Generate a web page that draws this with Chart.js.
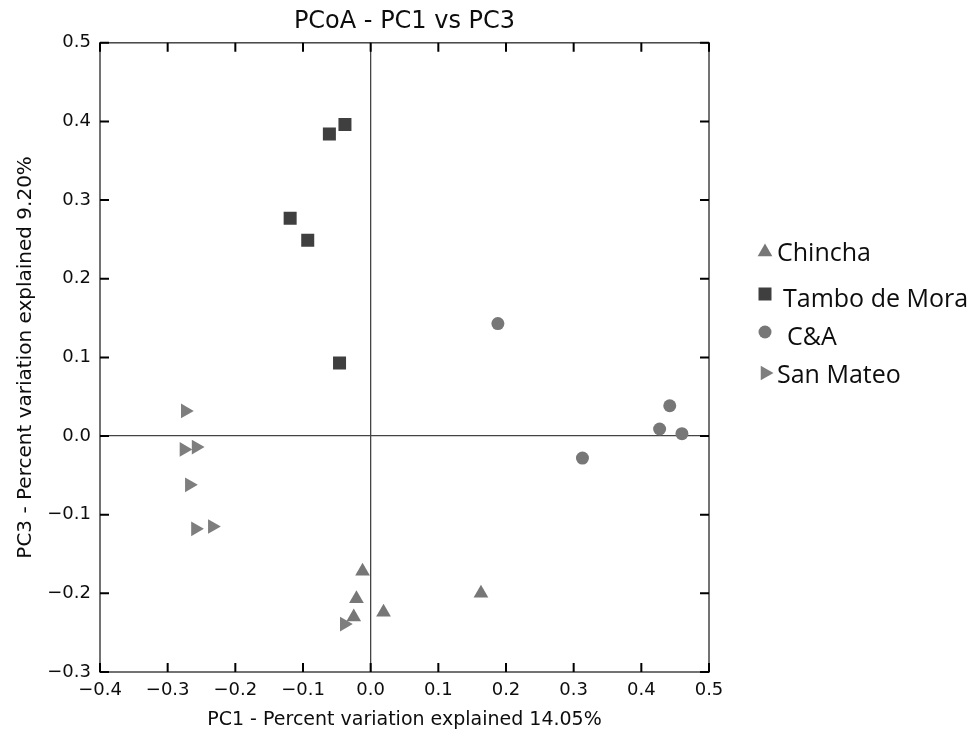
<!DOCTYPE html>
<html>
<head>
<meta charset="utf-8">
<title>PCoA - PC1 vs PC3</title>
<script src="https://cdn.jsdelivr.net/npm/chart.js"></script>
<style>
  body { margin: 0; background: #fff; }
  #wrap { width: 977px; height: 733px; }
</style>
</head>
<body>
<div id="wrap"><canvas id="chart" width="977" height="733"></canvas></div>
<script>
// groups shown in the legend
var groups = ["Chincha", "Tambo de Mora", "C&A", "San Mateo"];

// [PC1, PC3] for each sample
var chinchaPts = [[-0.012, -0.172], [-0.021, -0.207], [-0.025, -0.230], [0.019, -0.224], [0.163, -0.200]];
var tamboPts = [[-0.038, 0.396], [-0.061, 0.384], [-0.119, 0.277], [-0.093, 0.249], [-0.046, 0.093]];
var caPts = [[0.188, 0.143], [0.442, 0.0385], [0.427, 0.009], [0.460, 0.003], [0.313, -0.028]];
var sanMateoPts = [[-0.274, 0.032], [-0.276, -0.017], [-0.258, -0.014], [-0.268, -0.062],
                   [-0.259, -0.118], [-0.234, -0.115], [-0.039, -0.239]];

// axis ticks
var xTickValues = [-0.4, -0.3, -0.2, -0.1, 0, 0.1, 0.2, 0.3, 0.4, 0.5];
var xTickLabels = ["\u22120.4", "\u22120.3", "\u22120.2", "\u22120.1", "0.0", "0.1", "0.2", "0.3", "0.4", "0.5"];
var yTickValues = [-0.3, -0.2, -0.1, 0, 0.1, 0.2, 0.3, 0.4, 0.5];
var yTickLabels = ["\u22120.3", "\u22120.2", "\u22120.1", "0.0", "0.1", "0.2", "0.3", "0.4", "0.5"];

var DARK = "#3f3f3f";
var GRAY = "#777777";
var LIGHT = "#7e7e7e";

function toXY(pts) {
  return pts.map(function (p) { return { x: p[0], y: p[1] }; });
}

// little marker shapes for the legend
function drawMarker(ctx, style, x, y, color) {
  ctx.fillStyle = color;
  ctx.beginPath();
  if (style === "triangle" || style === "triangleRight") {
    var r = 8.5;
    var rad = style === "triangle" ? 0 : Math.PI / 2;
    for (var i = 0; i < 3; i++) {
      var a = rad + i * 2 * Math.PI / 3;
      var px = x + Math.sin(a) * r, py = y - Math.cos(a) * r;
      if (i === 0) ctx.moveTo(px, py); else ctx.lineTo(px, py);
    }
    ctx.closePath();
  } else if (style === "rect") {
    ctx.rect(x - 6.5, y - 6.5, 13, 13);
  } else {
    ctx.arc(x, y, 6.5, 0, Math.PI * 2);
  }
  ctx.fill();
}

var framePlugin = {
  id: "frame",
  afterDraw: function (chart) {
    var ctx = chart.ctx;
    var a = chart.chartArea;
    var xs = chart.scales.x, ys = chart.scales.y;
    var len = 9;
    ctx.save();
    // box round the plot
    ctx.strokeStyle = "#444";
    ctx.lineWidth = 1.5;
    ctx.strokeRect(a.left, a.top, a.right - a.left, a.bottom - a.top);
    // inward ticks on all four sides
    ctx.strokeStyle = "#000";
    ctx.lineWidth = 2;
    ctx.beginPath();
    xTickValues.forEach(function (v) {
      var px = xs.getPixelForValue(v);
      ctx.moveTo(px, a.bottom); ctx.lineTo(px, a.bottom - len);
      ctx.moveTo(px, a.top); ctx.lineTo(px, a.top + len);
    });
    yTickValues.forEach(function (v) {
      var py = ys.getPixelForValue(v);
      ctx.moveTo(a.left, py); ctx.lineTo(a.left + len, py);
      ctx.moveTo(a.right, py); ctx.lineTo(a.right - len, py);
    });
    ctx.stroke();

    // legend on the right
    var rows = [
      { style: "triangle", color: GRAY, my: 252, tx: 777, ty: 260.5 },
      { style: "rect", color: DARK, my: 294, tx: 783, ty: 307 },
      { style: "circle", color: GRAY, my: 332, tx: 787, ty: 345 },
      { style: "triangleRight", color: LIGHT, my: 373, tx: 777, ty: 383 }
    ];
    ctx.font = "25px 'Open Sans'";
    ctx.textBaseline = "alphabetic";
    ctx.textAlign = "left";
    rows.forEach(function (r, i) {
      drawMarker(ctx, r.style, 765, r.my, r.color);
      ctx.fillStyle = "#0d0d0d";
      ctx.fillText(groups[i], r.tx, r.ty);
    });
    ctx.restore();
  }
};

var ctx = document.getElementById("chart").getContext("2d");

new Chart(ctx, {
  type: "scatter",
  data: {
    datasets: [
      {
        label: groups[0],
        data: toXY(chinchaPts),
        pointStyle: "triangle",
        pointRadius: 8.5,
        backgroundColor: GRAY,
        borderColor: GRAY,
        borderWidth: 0
      },
      {
        label: groups[1],
        data: toXY(tamboPts),
        pointStyle: "rect",
        pointRadius: 9.2,
        backgroundColor: DARK,
        borderColor: DARK,
        borderWidth: 0
      },
      {
        label: groups[2],
        data: toXY(caPts),
        pointStyle: "circle",
        pointRadius: 6.5,
        backgroundColor: GRAY,
        borderColor: GRAY,
        borderWidth: 0
      },
      {
        label: groups[3],
        data: toXY(sanMateoPts),
        pointStyle: "triangle",
        rotation: 90,
        pointRadius: 8.5,
        backgroundColor: LIGHT,
        borderColor: LIGHT,
        borderWidth: 0
      }
    ]
  },
  options: {
    responsive: false,
    animation: false,
    layout: { padding: { left: 0, right: 268, top: 0, bottom: 0 } },
    plugins: {
      legend: { display: false },
      tooltip: { enabled: false },
      title: {
        display: true,
        fullSize: false, // centre over the plot, not the whole canvas
        text: "PCoA - PC1 vs PC3",
        color: "#0d0d0d",
        font: { family: "'DejaVu Sans'", size: 24, weight: "normal" },
        padding: { top: 7, bottom: 7 }
      }
    },
    scales: {
      x: {
        type: "linear",
        min: -0.4,
        max: 0.5,
        afterBuildTicks: function (scale) {
          scale.ticks = xTickValues.map(function (v) { return { value: v }; });
        },
        afterFit: function (scale) { scale.height = 61; },
        ticks: {
          padding: 8,
          color: "#0d0d0d",
          maxRotation: 0,
          autoSkip: false,
          font: { family: "'DejaVu Sans'", size: 18 },
          callback: function (v, i) { return xTickLabels[i]; }
        },
        grid: {
          drawTicks: false,
          lineWidth: 1.3,
          color: function (c) { return c.tick && c.tick.value === 0 ? "#444" : "rgba(0,0,0,0)"; }
        },
        border: { display: false },
        title: {
          display: true,
          text: "PC1 - Percent variation explained 14.05%",
          color: "#0d0d0d",
          font: { family: "'DejaVu Sans'", size: 19 },
          padding: { top: 0, bottom: 1.6 }
        }
      },
      y: {
        type: "linear",
        min: -0.3,
        max: 0.5,
        afterBuildTicks: function (scale) {
          scale.ticks = yTickValues.map(function (v) { return { value: v }; });
        },
        afterFit: function (scale) { scale.width = 100; },
        ticks: {
          padding: 9,
          color: "#0d0d0d",
          autoSkip: false,
          font: { family: "'DejaVu Sans'", size: 18 },
          callback: function (v, i) { return yTickLabels[i]; }
        },
        grid: {
          drawTicks: false,
          lineWidth: 1.3,
          color: function (c) { return c.tick && c.tick.value === 0 ? "#444" : "rgba(0,0,0,0)"; }
        },
        border: { display: false },
        title: {
          display: true,
          text: "PC3 - Percent variation explained 9.20%",
          color: "#0d0d0d",
          font: { family: "'DejaVu Sans'", size: 20 },
          padding: { top: 13.4, bottom: 0 }
        }
      }
    }
  },
  plugins: [framePlugin]
});
</script>
</body>
</html>
